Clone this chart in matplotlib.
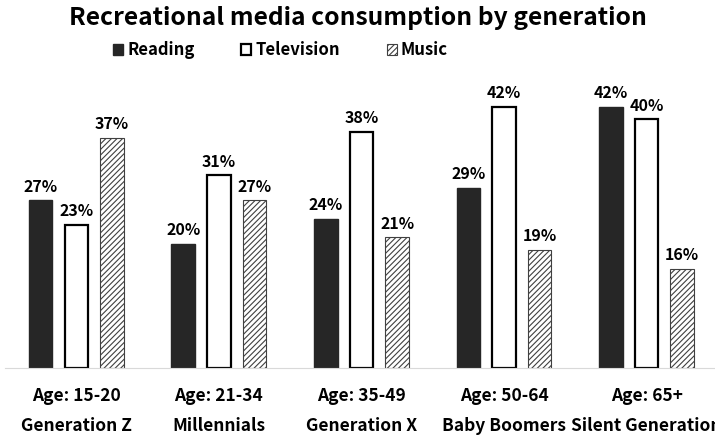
import matplotlib
matplotlib.use("Agg")
import matplotlib.pyplot as plt
import numpy as np

plt.rcParams['font.family'] = ['Noto Sans CJK KR', 'DejaVu Sans']
plt.rcParams['hatch.linewidth'] = 0.8

# data
groups = ["Age: 15-20\nGeneration Z", "Age: 21-34\nMillennials", "Age: 35-49\nGeneration X",
          "Age: 50-64\nBaby Boomers", "Age: 65+\nSilent Generation"]
reading = [27, 20, 24, 29, 42]
television = [23, 31, 38, 42, 40]
music = [37, 27, 21, 19, 16]

fig = plt.figure(figsize=(7.15, 4.37), dpi=100)
ax = fig.add_axes([0.007, 0.158, 0.993, 0.64])

x = np.arange(len(groups))
w = 0.165
step = 0.25

b1 = ax.bar(x - step, reading, w, color="#262626", edgecolor="#262626", linewidth=1, label="Reading")
b2 = ax.bar(x, television, w, color="white", edgecolor="black", linewidth=1.6, label="Television")
b3 = ax.bar(x + step, music, w, color="white", edgecolor="#404040", linewidth=0.8,
            hatch="//////", label="Music")

for bars in (b1, b2, b3):
    for r in bars:
        ax.annotate(f"{int(r.get_height())}%", (r.get_x() + r.get_width() / 2, r.get_height()),
                    xytext=(0, 4), textcoords="offset points", ha="center", va="bottom",
                    fontsize=11.5, fontweight="bold")

ax.set_xlim(-0.5, 4.48)
ax.set_ylim(0, 45)
ax.set_xticks(x)
ax.set_xticklabels(groups, fontsize=12.5, fontweight="bold", linespacing=1.85)
ax.tick_params(axis="x", length=0, pad=14)
ax.set_yticks([])
for s in ["top", "right", "left"]:
    ax.spines[s].set_visible(False)
ax.spines["bottom"].set_color("#d9d9d9")

fig.text(0.5, 0.958, "Recreational media consumption by generation", ha="center", va="center",
         fontsize=17.7, fontweight="bold")
fig.legend(handles=[b1, b2, b3], loc="center left", bbox_to_anchor=(0.158, 0.885), ncol=3,
           frameon=False, borderpad=0, borderaxespad=0,
           prop={"size": 12, "weight": "bold"}, handlelength=0.6, handleheight=0.6,
           handletextpad=0.25, columnspacing=2.8)

fig.savefig("out.png", dpi=100)
